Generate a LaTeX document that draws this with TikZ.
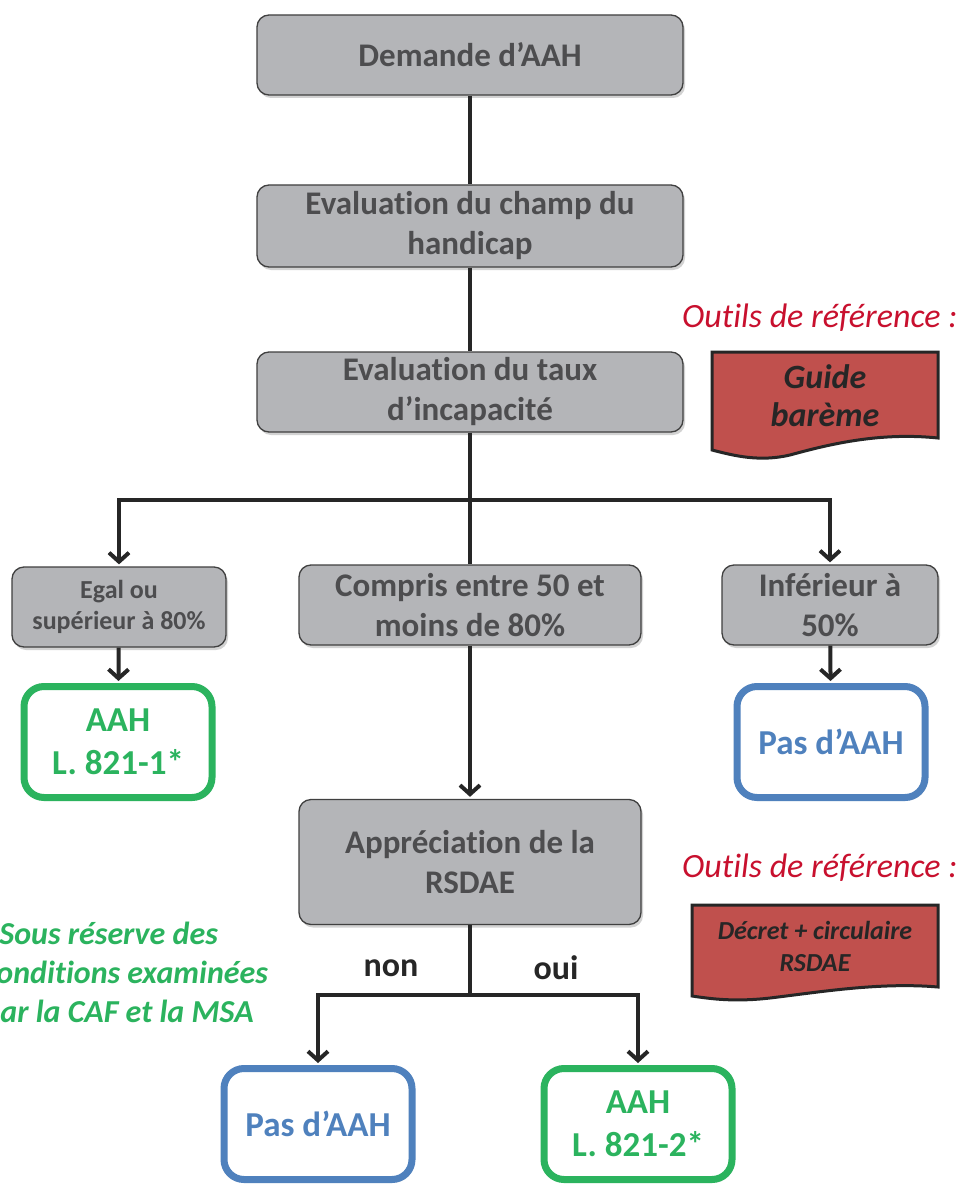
\documentclass[tikz,border=0pt]{standalone}
\usepackage{fontspec}
\setmainfont[Ligatures=NoCommon]{Carlito}
\usetikzlibrary{arrows.meta,shadows}
\definecolor{boxgray}{HTML}{B4B5B8}
\definecolor{txtgray}{HTML}{4D4D4F}
\definecolor{aahgreen}{HTML}{2BB35E}
\definecolor{pasblue}{HTML}{4F81BD}
\definecolor{docred}{HTML}{C0504D}
\definecolor{refred}{HTML}{C8102E}
\begin{document}
\begin{tikzpicture}[x=1pt,y=-1pt,
  greybox/.style={draw=black!75, line width=1.3pt, fill=boxgray, rounded corners=12pt,
    text=txtgray, align=center, font=\bfseries\fontsize{33}{40}\selectfont,
    drop shadow={opacity=.35,shadow xshift=2pt,shadow yshift=-3pt}},
  result/.style={line width=7pt, fill=white, rounded corners=20pt, align=center,
    minimum width=188pt, minimum height=111pt, font=\bfseries\fontsize{35}{43}\selectfont,
    drop shadow={opacity=.3,shadow xshift=2pt,shadow yshift=-3pt}},
  link/.style={line width=4pt, black!85},
  arr/.style={link, -{Straight Barb[length=9pt,width=20pt]}, shorten >=2pt},
  refnote/.style={text=refred, font=\itshape\fontsize{34}{40}\selectfont, anchor=east},
  docshape/.style={draw=black!85, line width=3pt, fill=docred}]
\clip (0,0) rectangle (960,1185);
\fill[white] (0,0) rectangle (960,1185);

% main column
\node[greybox, minimum width=426pt, minimum height=80pt] (dem) at (470,55) {Demande d’AAH};
\node[greybox, minimum width=426pt, minimum height=82pt] (champ) at (470,226) {Evaluation du champ du\\handicap};
\node[greybox, minimum width=426pt, minimum height=80pt] (taux) at (470,392) {Evaluation du taux\\d’incapacité};

% three levels
\node[greybox, minimum width=214pt, minimum height=80pt, font=\bfseries\fontsize{26}{31}\selectfont] (egal) at (119,607) {Egal ou\\supérieur à 80\%};
\node[greybox, minimum width=342pt, minimum height=80pt] (compris) at (470,605) {Compris entre 50 et\\moins de 80\%};
\node[greybox, minimum width=216pt, minimum height=80pt] (inf) at (830,605) {Inférieur à\\50\%};
\node[greybox, minimum width=342pt, minimum height=125pt] (appr) at (470,862) {Appréciation de la\\RSDAE};

% results
\node[result, draw=aahgreen, text=aahgreen] (aah1) at (118,742) {AAH\\L. 821-1*};
\node[result, draw=pasblue, text=pasblue] (pas1) at (831,742) {Pas d’AAH};
\node[result, draw=pasblue, text=pasblue] (pas2) at (318,1124) {Pas d’AAH};
\node[result, draw=aahgreen, text=aahgreen] (aah2) at (638,1124) {AAH\\L. 821-2*};

% connectors
\coordinate (split) at (470,500);
\coordinate (fork) at (470,995);
\draw[link] (dem) -- (champ);
\draw[link] (champ) -- (taux);
\draw[link] (taux) -- (compris);
\draw[arr] (split) -| (egal);
\draw[arr] (split) -| (inf);
\draw[arr] (egal) -- (aah1);
\draw[arr] (inf) -- (pas1);
\draw[arr] (compris) -- (appr);
\draw[link] (appr) -- (fork);
\draw[arr] (fork) -| (pas2);
\draw[arr] (fork) -| (aah2);
\node[font=\bfseries\fontsize{34}{40}\selectfont, text=black!85] (non) at (391,968) {non};
\node[font=\bfseries\fontsize{34}{40}\selectfont, text=black!85] (oui) at (556,968) {oui};

% reference tools
\node[refnote] (ref1) at (961,318) {Outils de référence :};
\draw[docshape] (712,352) -- (938,352) -- (938,438)
  .. controls (880,432) and (830,444) .. (790,455)
  .. controls (760,462) and (735,456) .. (712,450) -- cycle;
\node[align=center, text=black!85, font=\bfseries\itshape\fontsize{34}{38}\selectfont] (guide) at (825,396) {Guide\\barème};
\node[refnote] (ref2) at (961,868) {Outils de référence :};
\draw[docshape] (692,905) -- (938,905) -- (938,987)
  .. controls (880,982) and (820,992) .. (770,998)
  .. controls (735,1002) and (712,999) .. (692,996) -- cycle;
\node[align=center, text=black!85, font=\bfseries\itshape\fontsize{26}{32}\selectfont] (decret) at (815,946) {Décret + circulaire\\RSDAE};

% footnote
\node[anchor=west, align=left, text=aahgreen, font=\bfseries\itshape\fontsize{32}{39}\selectfont] (note) at (-20,975) {*Sous réserve des\\conditions examinées\\par la CAF et la MSA};
\end{tikzpicture}
\end{document}
